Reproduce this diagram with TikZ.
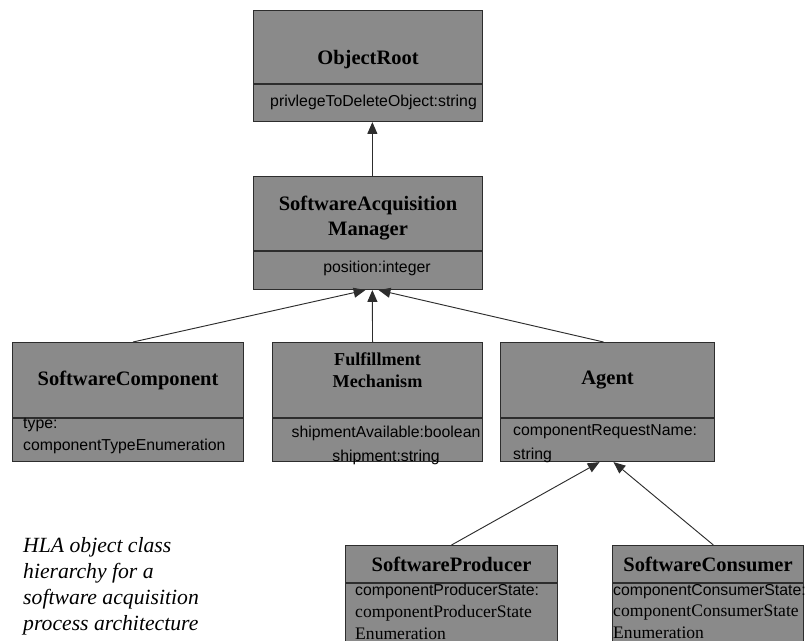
\documentclass[tikz,border=0pt]{standalone}
\usepackage{fontspec}
\setmainfont{Liberation Serif}
\setsansfont{Liberation Sans}
\usetikzlibrary{positioning,arrows.meta}
\definecolor{boxgray}{RGB}{138,138,138}
\definecolor{edgegray}{RGB}{45,45,45}
\tikzset{
  cls/.style={draw=edgegray, fill=boxgray, line width=0.9pt, inner sep=0pt, align=center, anchor=north west,
    font=\bfseries\fontsize{17.5}{21}\selectfont},
  attr/.style={draw=edgegray, fill=boxgray, line width=0.9pt, inner sep=0pt},
  attrtext/.style={inner sep=0pt, align=left, anchor=west, font=\sffamily\fontsize{13.5}{18.5}\selectfont},
  isa/.style={draw=edgegray, line width=0.8pt, -{Triangle[length=10pt,width=8.5pt]}},
}
\begin{document}
\begin{tikzpicture}[x=0.03cm, y=-0.03cm]
\clip (0,0) rectangle (807,640);
% classes
\node[cls, minimum width=6.87cm, minimum height=2.19cm] (root) at (253,10) {\raisebox{-15pt}[0pt][0pt]{ObjectRoot}};
\node[attr, minimum width=6.87cm, minimum height=1.11cm, below=0pt of root] (rootattr) {};
\node[cls, minimum width=6.87cm, minimum height=2.22cm] (sam) at (253,176) {\raisebox{-8pt}[0pt][0pt]{\begin{tabular}{@{}c@{}}SoftwareAcquisition\\Manager\end{tabular}}};
\node[attr, minimum width=6.87cm, minimum height=1.14cm, below=0pt of sam] (samattr) {};
\node[cls, minimum width=6.93cm, minimum height=2.25cm] (comp) at (12,342) {SoftwareComponent};
\node[attr, minimum width=6.93cm, minimum height=1.29cm, below=0pt of comp] (compattr) {};
\node[cls, minimum width=6.3cm, minimum height=2.25cm, font=\bfseries\fontsize{15.5}{19}\selectfont] (fulfil) at (272,342) {\raisebox{3.5pt}[0pt][0pt]{\begin{tabular}{@{}c@{}}Fulfillment\\Mechanism\end{tabular}}};
\node[attr, minimum width=6.3cm, minimum height=1.29cm, below=0pt of fulfil] (fulfilattr) {};
\node[cls, minimum width=6.42cm, minimum height=2.25cm] (agent) at (500,342) {Agent};
\node[attr, minimum width=6.42cm, minimum height=1.29cm, below=0pt of agent] (agentattr) {};
\node[cls, minimum width=6.36cm, minimum height=1.11cm] (prod) at (345,545) {SoftwareProducer};
\node[attr, minimum width=6.36cm, minimum height=2.7cm, below=0pt of prod] (prodattr) {};
\node[cls, minimum width=5.73cm, minimum height=1.11cm] (cons) at (612,545) {SoftwareConsumer};
\node[attr, minimum width=5.73cm, minimum height=2.7cm, below=0pt of cons] (consattr) {};
% attributes
\node[attrtext] (roottxt) at (270,102) {privlegeToDeleteObject:string};
\node[attrtext, anchor=center] (samtxt) at (377,268) {position:integer};
\node[attrtext] (comptxt) at (23,436) {type:\\componentTypeEnumeration};
\node[attrtext, align=center, anchor=center] (fulfiltxt) at (386,445) {shipmentAvailable:boolean\\[2pt]shipment:string};
\node[attrtext] (agenttxt) at (513,444) {componentRequestName:\\[2pt]string};
\node[attrtext, anchor=north west] (prodtxt) at (355,584) {componentProducerState:\\
  {\rmfamily\fontsize{15}{18.5}\selectfont componentProducerState}\\
  {\rmfamily\fontsize{15}{18.5}\selectfont Enumeration}};
\node[attrtext, anchor=north west] (constxt) at (613,584) {componentConsumerState:\\
  {\rmfamily\fontsize{15}{18.5}\selectfont componentConsumerState}\\
  {\rmfamily\fontsize{15}{18.5}\selectfont Enumeration}};
% inheritance
\draw[isa] ([xshift=0.13cm]sam.north) -- ([xshift=0.13cm]rootattr.south);
\draw[isa] ([xshift=0.15cm]comp.north) -- ([xshift=-0.08cm]samattr.south);
\draw[isa] ([xshift=-0.15cm]fulfil.north) -- ([xshift=0.13cm]samattr.south);
\draw[isa] ([xshift=-0.12cm]agent.north) -- ([xshift=0.32cm]samattr.south);
\draw[isa] (prod.north) -- ([xshift=-0.24cm]agentattr.south);
\draw[isa] ([xshift=0.16cm]cons.north) -- ([xshift=0.18cm]agentattr.south);
% caption
\node[inner sep=0pt, align=left, anchor=west, font=\itshape\fontsize{18.5}{22.3}\selectfont] (caption) at (23,586)
  {HLA object class\\hierarchy for a\\software acquisition\\process architecture};
\end{tikzpicture}
\end{document}
